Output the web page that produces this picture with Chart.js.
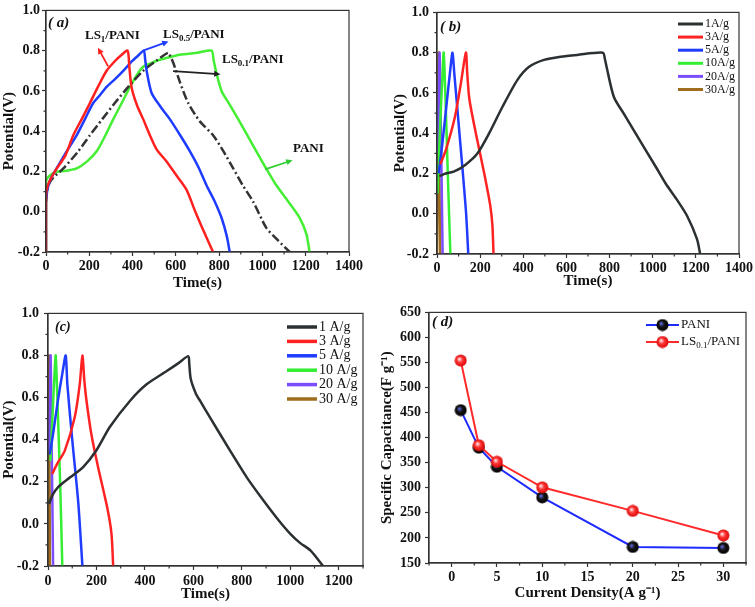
<!DOCTYPE html>
<html>
<head>
<meta charset="utf-8">
<script src="https://cdn.jsdelivr.net/npm/chart.js@4.4.0/dist/chart.umd.min.js"></script>
<style>
  body { margin: 0; background: #fff; width: 755px; height: 607px; position: relative; overflow: hidden; }
  .p { position: absolute; }
</style>
</head>
<body>
<div class="p" style="left:0;top:0;width:378px;height:300px"><canvas id="ca"></canvas></div>
<div class="p" style="left:378px;top:0;width:377px;height:300px"><canvas id="cb"></canvas></div>
<div class="p" style="left:0;top:300px;width:378px;height:307px"><canvas id="cc"></canvas></div>
<div class="p" style="left:378px;top:300px;width:377px;height:307px"><canvas id="cd"></canvas></div>
<script>
var SERIF = '"Liberation Serif", "Times New Roman", serif';

// ---- (a) charge/discharge at 1 A/g, four electrodes ----
var aLs1T = [0, 0, 8, 25, 50, 90, 126, 165, 203, 240, 280, 320, 350, 377, 385, 395, 420, 449, 480, 511, 557, 603, 649, 690, 730, 772];
var aLs1V = [-0.2, 0.08, 0.13, 0.17, 0.215, 0.28, 0.38, 0.46, 0.54, 0.62, 0.70, 0.75, 0.78, 0.80, 0.72, 0.62, 0.53, 0.46, 0.38, 0.31, 0.25, 0.18, 0.11, 0.0, -0.1, -0.2];
var aLs05T = [0, 0, 5, 20, 49, 90, 142, 180, 218, 250, 280, 320, 357, 400, 430, 452, 458, 465, 488, 530, 572, 620, 665, 705, 742, 780, 811, 835, 849];
var aLs05V = [-0.2, 0.05, 0.1, 0.16, 0.215, 0.29, 0.38, 0.46, 0.54, 0.58, 0.62, 0.66, 0.70, 0.75, 0.78, 0.80, 0.76, 0.70, 0.59, 0.52, 0.46, 0.38, 0.30, 0.22, 0.13, 0.05, -0.03, -0.12, -0.2];
var aLs01T = [0, 5, 15, 34, 80, 149, 203, 260, 318, 380, 449, 510, 565, 575, 588, 620, 657, 710, 772, 820, 865, 910, 957, 1018, 1070, 1126];
var aLs01V = [0.05, 0.1, 0.14, 0.17, 0.215, 0.30, 0.38, 0.46, 0.54, 0.62, 0.70, 0.75, 0.79, 0.77, 0.74, 0.64, 0.54, 0.45, 0.38, 0.30, 0.215, 0.13, 0.05, -0.08, -0.14, -0.2];
var aPaniT = [0, 0, 8, 18, 40, 65, 100, 142, 190, 234, 270, 311, 350, 388, 420, 449, 480, 511, 560, 618, 700, 765, 775, 785, 811, 850, 888, 930, 972, 1020, 1065, 1120, 1172, 1203, 1218];
var aPaniV = [-0.2, 0.15, 0.17, 0.18, 0.195, 0.2, 0.205, 0.215, 0.25, 0.30, 0.37, 0.46, 0.54, 0.62, 0.68, 0.72, 0.735, 0.75, 0.765, 0.78, 0.79, 0.80, 0.75, 0.70, 0.60, 0.53, 0.46, 0.38, 0.30, 0.21, 0.13, 0.05, -0.03, -0.11, -0.2];
var aTicksX = [0, 200, 400, 600, 800, 1000, 1200, 1400];
var vTicks = [-0.2, 0.0, 0.2, 0.4, 0.6, 0.8, 1.0];

// ---- (b) one electrode at several current densities ----
var bNames = ['1A/g', '3A/g', '5A/g', '10A/g', '20A/g', '30A/g'];
var b1T = [11, 40, 80, 134, 188, 242, 303, 373, 427, 496, 573, 650, 769, 778, 786, 820, 870, 920, 1012, 1060, 1112, 1159, 1205, 1220];
var b1V = [0.187, 0.2, 0.21, 0.245, 0.30, 0.40, 0.53, 0.665, 0.73, 0.764, 0.78, 0.789, 0.80, 0.77, 0.73, 0.58, 0.49, 0.40, 0.237, 0.15, 0.07, -0.01, -0.125, -0.2];
var b3T = [15, 42, 83, 111, 134, 140, 150, 180, 219, 247, 257, 262];
var b3V = [0.245, 0.32, 0.48, 0.65, 0.80, 0.70, 0.57, 0.40, 0.20, 0.04, -0.06, -0.2];
var b5T = [8, 25, 45, 62, 72, 80, 100, 120, 135, 145];
var b5V = [0.2, 0.35, 0.55, 0.72, 0.80, 0.70, 0.45, 0.20, 0.0, -0.2];
var b10T = [2, 15, 25, 31, 40, 50, 62];
var b10V = [0.1, 0.45, 0.68, 0.80, 0.55, 0.2, -0.2];
var b20T = [2, 8, 12, 16, 21, 26];
var b20V = [0.3, 0.6, 0.80, 0.55, 0.2, -0.2];
var b30T = [0, 4, 7, 10, 15];
var b30V = [-0.2, 0.4, 0.80, 0.3, -0.2];

// ---- (c) second electrode at several current densities ----
var cNames = ['1 A/g', '3 A/g', '5 A/g', '10 A/g', '20 A/g', '30 A/g'];
var c1T = [4, 20, 41, 90, 145, 200, 255, 338, 407, 490, 540, 579, 583, 589, 610, 628, 669, 752, 821, 890, 950, 1000, 1040, 1083, 1135];
var c1V = [0.095, 0.14, 0.174, 0.22, 0.27, 0.35, 0.46, 0.584, 0.663, 0.726, 0.765, 0.797, 0.76, 0.69, 0.62, 0.584, 0.505, 0.347, 0.22, 0.11, 0.02, -0.047, -0.09, -0.126, -0.2];
var c3T = [17, 40, 69, 110, 131, 142, 150, 159, 179, 207, 244, 262, 269];
var c3V = [0.237, 0.29, 0.347, 0.505, 0.663, 0.80, 0.68, 0.584, 0.426, 0.268, 0.08, -0.047, -0.2];
var c5T = [7, 20, 40, 60, 73, 80, 100, 125, 142];
var c5V = [0.33, 0.42, 0.58, 0.72, 0.80, 0.66, 0.40, 0.10, -0.2];
var c10T = [10, 20, 28, 32, 40, 50, 59];
var c10V = [0.3, 0.55, 0.74, 0.80, 0.55, 0.2, -0.2];
var c20T = [5, 9, 11, 14, 17, 21];
var c20V = [0.35, 0.65, 0.80, 0.5, 0.2, -0.2];
var c30T = [0, 2, 4, 6, 8];
var c30V = [-0.2, 0.4, 0.80, 0.3, -0.2];
var cTicksX = [0, 200, 400, 600, 800, 1000, 1200];

// ---- (d) specific capacitance vs current density ----
var dDensity = [1, 3, 5, 10, 20, 30];
var dPani = [455, 380, 342, 281, 182, 180];
var dLs01 = [554, 385, 352, 301, 254, 205];
var dTicksX = [0, 5, 10, 15, 20, 25, 30];
var dTicksY = [150, 200, 250, 300, 350, 400, 450, 500, 550, 600, 650];

var rateColors = ['#2b3033', '#ff2222', '#1f3cff', '#33ee33', '#7b4dff', '#a06c1e'];

function pts(t, v) {
    return t.map(function (x, i) { return {x: x, y: v[i]}; });
}

function line(label, t, v, color, extra) {
    var ds = {label: label, data: pts(t, v), borderColor: color, backgroundColor: color,
        borderWidth: 2.5, pointRadius: 0, tension: 0.25, fill: false};
    return Object.assign(ds, extra || {});
}

function axis(o) {
    return {
        type: 'linear', min: o.min, max: o.max,
        afterBuildTicks: function (s) { s.ticks = o.ticks.map(function (v) { return {value: v}; }); },
        afterFit: function (s) { if (s.isHorizontal()) s.height = o.size; else s.width = o.size; },
        ticks: {color: '#111', padding: o.pad, autoSkip: false, maxRotation: 0,
            font: {family: SERIF, size: 14, weight: 'bold'},
            callback: function (v) { return o.fmt ? o.fmt(v) : v; }},
        grid: {drawOnChartArea: false, drawTicks: true, tickLength: 4, color: '#333', tickWidth: 1.2},
        border: {display: true, color: '#333', width: 1.2},
        title: {display: true, text: o.title, color: '#111', padding: 0,
            font: {family: SERIF, size: 15, weight: 'bold'}}
    };
}

function fmt1(v) { return (Math.abs(v) < 1e-9 ? 0 : v).toFixed(1); }

function minors(min, max, step) {
    var out = [];
    for (var v = min; v <= max + 1e-9; v += step / 2) {
        var r = Math.round(v / step * 2);
        if (r % 2 !== 0) out.push(v);
    }
    return out;
}

// draws "LS" + subscript + "/PANI" style text
function richText(ctx, parts, x, y, size, weight, color) {
    ctx.fillStyle = color;
    ctx.textBaseline = 'middle';
    ctx.textAlign = 'left';
    parts.forEach(function (p) {
        var sub = p[1];
        ctx.font = weight + ' ' + (sub ? Math.round(size * 0.68) : size) + 'px ' + SERIF;
        ctx.fillText(p[0], x, y + (sub ? size * 0.3 : 0));
        x += ctx.measureText(p[0]).width;
    });
}

function arrow(ctx, x1, y1, x2, y2, color) {
    var ang = Math.atan2(y2 - y1, x2 - x1), h = 7;
    ctx.strokeStyle = color; ctx.fillStyle = color; ctx.lineWidth = 1.8;
    ctx.beginPath(); ctx.moveTo(x1, y1);
    ctx.lineTo(x2 - h * 0.8 * Math.cos(ang), y2 - h * 0.8 * Math.sin(ang)); ctx.stroke();
    ctx.beginPath(); ctx.moveTo(x2, y2);
    ctx.lineTo(x2 - h * Math.cos(ang - 0.45), y2 - h * Math.sin(ang - 0.45));
    ctx.lineTo(x2 - h * Math.cos(ang + 0.45), y2 - h * Math.sin(ang + 0.45));
    ctx.closePath(); ctx.fill();
}

var frame = {
    id: 'frame',
    afterDraw: function (chart, args, o) {
        var ctx = chart.ctx, a = chart.chartArea, sx = chart.scales.x, sy = chart.scales.y;
        ctx.save();
        ctx.strokeStyle = '#333'; ctx.lineWidth = 1.2;
        ctx.strokeRect(a.left, a.top, a.right - a.left, a.bottom - a.top);
        ctx.beginPath();
        (o.minorX || []).forEach(function (v) {
            var x = sx.getPixelForValue(v); ctx.moveTo(x, a.bottom); ctx.lineTo(x, a.bottom + 2.5);
        });
        (o.minorY || []).forEach(function (v) {
            var y = sy.getPixelForValue(v); ctx.moveTo(a.left, y); ctx.lineTo(a.left - 2.5, y);
        });
        ctx.stroke();
        // panel tag
        if (o.tag) {
            ctx.font = 'italic bold ' + o.tag.size + 'px ' + SERIF;
            ctx.fillStyle = '#111'; ctx.textBaseline = 'middle'; ctx.textAlign = 'left';
            ctx.fillText(o.tag.text, a.left + o.tag.dx, a.top + o.tag.dy);
        }
        // notes in data coordinates
        (o.notes || []).forEach(function (n) {
            if (n.arrow) {
                arrow(ctx, sx.getPixelForValue(n.arrow[0]), sy.getPixelForValue(n.arrow[1]),
                    sx.getPixelForValue(n.arrow[2]), sy.getPixelForValue(n.arrow[3]), n.color);
            } else {
                richText(ctx, n.parts, sx.getPixelForValue(n.x), sy.getPixelForValue(n.y), 13, 'bold', '#111');
            }
        });
        // legend
        var lg = o.legend;
        if (lg) {
            chart.data.datasets.forEach(function (ds, i) {
                var y = lg.y + i * lg.dy;
                ctx.strokeStyle = ds.borderColor; ctx.lineWidth = lg.width; ctx.setLineDash([]);
                ctx.beginPath(); ctx.moveTo(lg.x, y); ctx.lineTo(lg.x + lg.len, y); ctx.stroke();
                if (ds.pointStyle && typeof ds.pointStyle === 'object') {
                    var img = ds.pointStyle;
                    ctx.drawImage(img, lg.x + lg.len / 2 - img.width / 2, y - img.height / 2);
                }
                richText(ctx, ds.parts || [[ds.label, 0]], lg.x + lg.len + 2, y, lg.size, 'normal', '#111');
            });
        }
        ctx.restore();
    }
};

function chart(id, datasets, xs, ys, pad, frameOpts) {
    return new Chart(document.getElementById(id), {
        type: 'line',
        data: {datasets: datasets},
        options: {
            responsive: true, maintainAspectRatio: false, animation: false,
            layout: {padding: pad},
            plugins: {legend: {display: false}, tooltip: {enabled: false}, frame: frameOpts},
            scales: {x: xs, y: ys}
        },
        plugins: [frame]
    });
}

// glossy ball markers for panel (d)
function ball(hi, mid, edge) {
    var c = document.createElement('canvas');
    c.width = 13; c.height = 13;
    var g = c.getContext('2d');
    var grad = g.createRadialGradient(5, 5, 0.5, 6.5, 6.5, 6.5);
    grad.addColorStop(0, hi); grad.addColorStop(0.4, mid); grad.addColorStop(1, edge);
    g.fillStyle = grad;
    g.beginPath(); g.arc(6.5, 6.5, 6, 0, Math.PI * 2); g.fill();
    return c;
}

// (a)
chart('ca', [
    line('LS1/PANI', aLs1T, aLs1V, '#ff2020'),
    line('LS0.5/PANI', aLs05T, aLs05V, '#1e3cff'),
    line('LS0.1/PANI', aLs01T, aLs01V, '#333333', {borderDash: [9, 3, 2, 3]}),
    line('PANI', aPaniT, aPaniV, '#44ee33')
],
    axis({min: 0, max: 1400, ticks: aTicksX, size: 40, pad: 2, title: 'Time(s)'}),
    axis({min: -0.2, max: 1.0, ticks: vTicks, size: 46, pad: 2, title: 'Potential(V)', fmt: fmt1}),
    {left: 0, right: 29, top: 6, bottom: 8},
    {minorX: minors(0, 1400, 200), minorY: minors(-0.2, 1.0, 0.2),
        tag: {text: '( a)', size: 15, dx: 2, dy: 13},
        notes: [
            {parts: [['LS', 0], ['1', 1], ['/PANI', 0]], x: 180, y: 0.873},
            {arrow: [287, 0.722, 240, 0.815], color: '#ff2020'},
            {parts: [['LS', 0], ['0.5', 1], ['/PANI', 0]], x: 541, y: 0.878},
            {arrow: [448, 0.80, 566, 0.846], color: '#1e3cff'},
            {parts: [['LS', 0], ['0.1', 1], ['/PANI', 0]], x: 813, y: 0.756},
            {arrow: [587, 0.698, 806, 0.683], color: '#222'},
            {parts: [['PANI', 0]], x: 1141, y: 0.312},
            {arrow: [1012, 0.21, 1139, 0.256], color: '#33cc33'}
        ]});

// (b)
var bT = [b1T, b3T, b5T, b10T, b20T, b30T], bV = [b1V, b3V, b5V, b10V, b20V, b30V];
chart('cb', bNames.map(function (n, i) { return line(n, bT[i], bV[i], rateColors[i]); }),
    axis({min: 0, max: 1400, ticks: aTicksX, size: 36, pad: 2, title: 'Time(s)'}),
    axis({min: -0.2, max: 1.0, ticks: vTicks, size: 46, pad: 4, title: 'Potential(V)', fmt: fmt1}),
    {left: 13, right: 15, top: 12, bottom: 10},
    {minorX: minors(0, 1400, 200), minorY: minors(-0.2, 1.0, 0.2),
        tag: {text: '( b)', size: 15, dx: 3, dy: 15},
        legend: {x: 300, y: 24, dy: 13.1, len: 25, width: 3, size: 12}});

// (c)
var cT = [c1T, c3T, c5T, c10T, c20T, c30T], cV = [c1V, c3V, c5V, c10V, c20V, c30V];
chart('cc', cNames.map(function (n, i) { return line(n, cT[i], cV[i], rateColors[i]); }),
    axis({min: 0, max: 1300, ticks: cTicksX, size: 37, pad: 3, title: 'Time(s)'}),
    axis({min: -0.2, max: 1.0, ticks: vTicks, size: 48, pad: 5, title: 'Potential(V)', fmt: fmt1}),
    {left: 0, right: 15, top: 12, bottom: 4},
    {minorX: minors(0, 1300, 200), minorY: minors(-0.2, 1.0, 0.2),
        tag: {text: '(c)', size: 14, dx: 7, dy: 14},
        legend: {x: 287, y: 27, dy: 14.4, len: 30, width: 3.5, size: 14}});

// (d)
var blackBall = ball('#5a66d8', '#141414', '#000000');
var redBall = ball('#ffe0e0', '#ff3535', '#d40000');
chart('cd', [
    {label: 'PANI', parts: [['PANI', 0]], data: pts(dDensity, dPani), borderColor: '#1f2bff', backgroundColor: '#111',
        borderWidth: 2, pointStyle: blackBall, pointRadius: 6, tension: 0, order: 2},
    {label: 'LS0.1/PANI', parts: [['LS', 0], ['0.1', 1], ['/PANI', 0]], data: pts(dDensity, dLs01),
        borderColor: '#ff2a2a', backgroundColor: '#ff3030', borderWidth: 2, pointStyle: redBall, pointRadius: 6,
        tension: 0, order: 1}
],
    axis({min: -2.5, max: 32.5, ticks: dTicksX, size: 39, pad: 2, title: 'Current Density(A g\u207B\u00B9)'}),
    axis({min: 150, max: 650, ticks: dTicksY, size: 51, pad: 4, title: 'Specific Capacitance(F g\u207B\u00B9)'}),
    {left: 0, right: 9, top: 10, bottom: 5},
    {minorX: minors(-2.5, 32.5, 5), minorY: [],
        tag: {text: '( d)', size: 15, dx: 3, dy: 10},
        legend: {x: 268, y: 25, dy: 17, len: 33, width: 2, size: 13}});
</script>
</body>
</html>
